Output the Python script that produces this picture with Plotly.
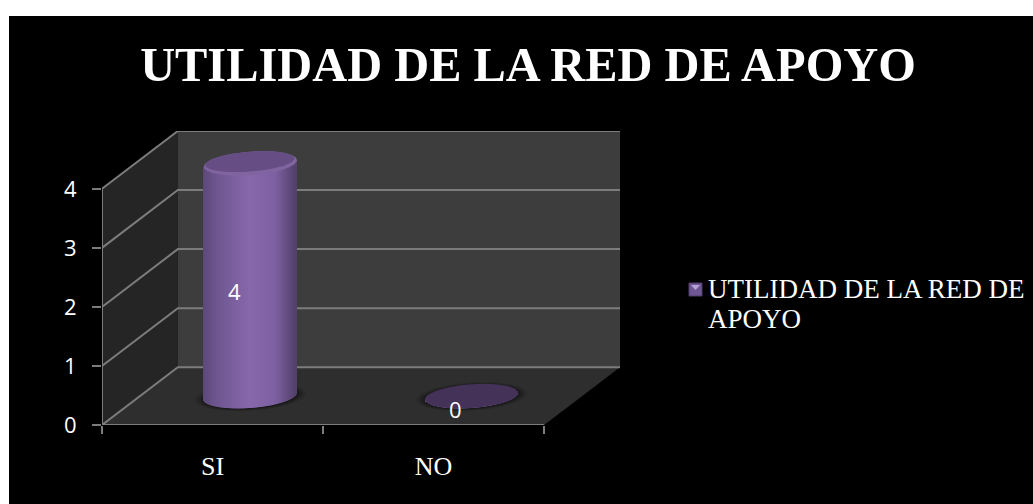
import numpy as np
import plotly.graph_objects as go

TITLE = "UTILIDAD DE LA RED DE APOYO"
SERIES_LINES = ["UTILIDAD DE LA RED DE", "APOYO"]
categories = ["SI", "NO"]
values = [4, 0]
y_ticks = [0, 1, 2, 3, 4]

W, H = 1033, 504
L, R, T, B = 102, 620, 131, 425
DX, DY = 76 / 221.5, 58 / 59.25      # depth of the 3D box in data units
XMIN, XMAX = -0.5, 1.5
HEIGHT_SCALE = 0.985
A, BB, SHEAR = 0.21, 0.2, 0.055      # cylinder ellipse in data units
SERIF = "Liberation Serif"
SANS = "Open Sans"
GRID = "#7c7c7c"


def px_x(p):
    return (p - L) / (R - L)


def px_y(p):
    return (B - p) / (B - T)


def ellipse_path(cx, cy, a, b, shear, n=48):
    t = np.linspace(0, 2 * np.pi, n, endpoint=False)
    xs = cx + a * np.cos(t)
    ys = cy + shear * np.cos(t) + b * np.sin(t)
    return "M" + " L".join(f"{x:.4f},{y:.4f}" for x, y in zip(xs, ys)) + " Z"


def poly(points):
    return "M" + " L".join(f"{x:.4f},{y:.4f}" for x, y in points) + " Z"


def hexrgb(h):
    return np.array([int(h[i:i + 2], 16) for i in (1, 3, 5)], float)


stops_u = [-1, -0.7, 0, 0.55, 1]
stops_c = [hexrgb(c) for c in ["#5c4877", "#6e5691", "#8768ab", "#7d60a2", "#523f6a"]]


def strip_color(u):
    rgb = [np.interp(u, stops_u, [c[i] for c in stops_c]) for i in range(3)]
    return "rgb({:.0f},{:.0f},{:.0f})".format(*rgb)


shapes = []
shapes.append(dict(type="rect", xref="paper", yref="paper", layer="below",
                   x0=px_x(9), x1=px_x(W), y0=px_y(H), y1=px_y(16),
                   fillcolor="#000000", line_width=0))
shapes.append(dict(type="path", layer="below", line_width=0, fillcolor="#2e2e2e",
                   path=poly([(XMIN, 0), (XMAX, 0), (XMAX + DX, DY), (XMIN + DX, DY)])))
shapes.append(dict(type="path", layer="below", line_width=0, fillcolor="#252525",
                   path=poly([(XMIN, 0), (XMIN + DX, DY), (XMIN + DX, DY + y_ticks[-1]), (XMIN, y_ticks[-1])])))
shapes.append(dict(type="path", layer="below", line_width=0, fillcolor="#3d3d3d",
                   path=poly([(XMIN + DX, DY), (XMAX + DX, DY), (XMAX + DX, DY + y_ticks[-1]), (XMIN + DX, DY + y_ticks[-1])])))
for t in y_ticks:
    shapes.append(dict(type="path", layer="below", line=dict(color=GRID, width=2),
                       path=f"M{XMIN},{t} L{XMIN + DX},{t + DY} L{XMAX + DX},{t + DY}"))
shapes.append(dict(type="line", layer="below", line=dict(color=GRID, width=2),
                   x0=XMIN, x1=XMIN, y0=0, y1=y_ticks[-1]))
shapes.append(dict(type="line", layer="below", line=dict(color=GRID, width=2),
                   x0=XMIN, x1=XMAX, y0=0, y1=0))

# legend swatch: violet square with a paler triangle at its top
shapes.append(dict(type="rect", xref="paper", yref="paper", layer="above",
                   x0=px_x(689), x1=px_x(702), y0=px_y(296), y1=px_y(283),
                   fillcolor="#6f5694", line=dict(color="#4f3d69", width=1)))
shapes.append(dict(type="path", xref="paper", yref="paper", layer="above", line_width=0,
                   fillcolor="#b7a3d6",
                   path=poly([(px_x(691), px_y(285)), (px_x(700), px_y(285)), (px_x(695.5), px_y(290))])))

n_strips = 93
us = (np.arange(n_strips) + 0.5) / n_strips * 2 - 1
sx, sbase, stop, scol = [], [], [], []
cap_colors = ["#664e85", "#443259"]
for i, v in enumerate(values):
    cx = i + DX / 2
    cy = DY / 2
    top = cy + v * HEIGHT_SCALE
    for u in us:
        b = cy + SHEAR * u - BB * np.sqrt(1 - u * u)
        sx.append(cx + A * u)
        sbase.append(b)
        stop.append(top + SHEAR * u - b)
        scol.append(strip_color(u))
    for grow, alpha in [(1.2, 0.08), (1.13, 0.15), (1.06, 0.22)]:
        shapes.append(dict(type="path", layer="below", line_width=0,
                           fillcolor=f"rgba(0,0,0,{alpha})",
                           path=ellipse_path(cx, cy - 0.01, A * grow, BB * grow, SHEAR)))
    if v > 0:
        shapes.append(dict(type="path", layer="above", line_width=0, fillcolor="#80649f",
                           path=ellipse_path(cx, top, A, BB, SHEAR)))
        shapes.append(dict(type="path", layer="above", line_width=0, fillcolor=cap_colors[i],
                           path=ellipse_path(cx - 0.003, top + 0.03, A * 0.96, BB * 0.84, SHEAR)))
    else:
        shapes.append(dict(type="path", layer="above", line_width=0, fillcolor=cap_colors[i],
                           path=ellipse_path(cx, top, A, BB, SHEAR)))

fig = go.Figure()
fig.add_trace(go.Bar(x=sx, y=stop, base=sbase, width=2 * A / n_strips * 1.15,
                     marker=dict(color=scol, line_width=0), showlegend=False))
legend_name = "<br>".join(f'<span style="font-size:27px">{s}</span>' for s in SERIES_LINES)
fig.add_trace(go.Scatter(x=[None], y=[None], mode="markers", name=legend_name,
                         marker=dict(symbol="square", size=1, color="rgba(0,0,0,0)")))

annotations = [dict(x=i + 0.1, y=v / 2 + 0.27, text=str(v), showarrow=False,
                    xanchor="center", yanchor="middle",
                    font=dict(family=SANS, size=22, color="#ffffff", weight=500))
               for i, v in enumerate(values)]

fig.update_layout(
    width=W, height=H, autosize=False,
    margin=dict(l=L, r=W - R, t=T, b=H - B, pad=0, autoexpand=False),
    paper_bgcolor="#ffffff", plot_bgcolor="rgba(0,0,0,0)",
    barmode="overlay", hovermode=False, shapes=shapes, annotations=annotations,
    title=dict(text=f"<b>{TITLE}</b>", x=528 / W, xanchor="center", xref="container",
               y=1 - 64 / H, yanchor="middle", yref="container",
               font=dict(family=SERIF, size=48.4, color="#ffffff")),
    legend=dict(x=px_x(668), y=px_y(268), xanchor="left", yanchor="top", valign="top",
                bgcolor="rgba(0,0,0,0)", font=dict(family=SERIF, size=23, color="#ffffff"),
                itemsizing="constant", tracegroupgap=0),
    xaxis=dict(range=[XMIN, XMAX + DX], tickmode="array",
               tickvals=list(range(len(categories))), ticktext=categories,
               ticks="outside", ticklen=18, tickcolor="rgba(0,0,0,0)",
               tickfont=dict(family=SERIF, size=26, color="#ffffff"),
               minor=dict(tickmode="array", tickvals=[XMIN, 0.5, XMAX], ticks="outside",
                          ticklen=8, tickwidth=2, tickcolor=GRID),
               showgrid=False, zeroline=False, showline=False),
    yaxis=dict(range=[0, y_ticks[-1] + DY], tickmode="array", tickvals=y_ticks,
               ticks="outside", ticklen=9, tickwidth=2, tickcolor=GRID,
               ticklabelstandoff=11,
               tickfont=dict(family=SANS, size=22, color="#ffffff", weight=500),
               showgrid=False, zeroline=False, showline=False),
)

fig.write_html("out.html", config=dict(displayModeBar=False),
               post_script="document.body.style.margin='0';document.body.style.overflow='hidden';")
